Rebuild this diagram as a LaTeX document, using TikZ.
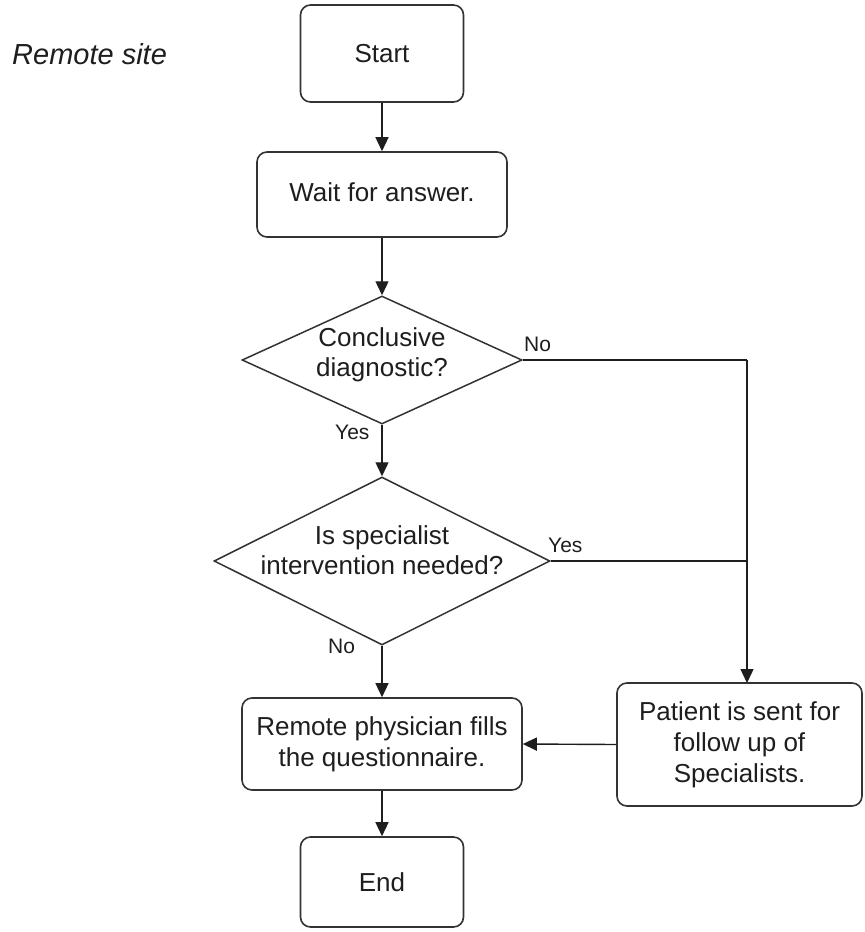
\documentclass[tikz,border=0pt]{standalone}
\usepackage{fontspec}
\setmainfont{Liberation Sans}
\usetikzlibrary{shapes.geometric,arrows.meta}
\definecolor{ink}{HTML}{1E1E1E}
\definecolor{edge}{HTML}{333333}
\begin{document}
\begin{tikzpicture}[x=1pt,y=-1pt,
  box/.style={draw=edge,line width=1.6pt,rounded corners=10pt,inner sep=0pt,align=center,
    text=ink,font={\fontsize{26}{31}\selectfont}},
  decision/.style={draw=edge,line width=1.5pt,diamond,inner sep=0pt},
  dtext/.style={text=ink,align=center,font={\fontsize{26}{30}\selectfont},inner sep=0pt},
  lbl/.style={text=ink,font={\fontsize{21}{24}\selectfont},inner sep=0pt,anchor=base west},
  conn/.style={draw=ink,line width=1.4pt},
  arr/.style={conn,-{Triangle[length=14pt,width=13pt]}}]
\useasboundingbox[fill=white] (0,0) rectangle (865,932);

\node[text=ink,font={\fontsize{29}{33}\selectfont\itshape},inner sep=0pt,anchor=base west] (site) at (12,64) {Remote site};

\node[box,minimum width=163pt,minimum height=97pt] (start) at (382,53.5) {Start};
\node[box,minimum width=250pt,minimum height=85pt] (wait) at (382,194.5) {\raisebox{4pt}{Wait for answer.}};
\node[decision,minimum width=280pt,minimum height=128pt] (d1) at (382,360) {};
\node[dtext] (d1t) at (382,355) {Conclusive\\diagnostic?};
\node[decision,minimum width=336pt,minimum height=168pt] (d2) at (382,561) {};
\node[dtext] (d2t) at (382,550) {Is specialist\\intervention needed?};
\node[box,minimum width=280pt,minimum height=92pt] (remote) at (382,744) {Remote physician fills\\the questionnaire.};
\node[box,minimum width=245pt,minimum height=123pt] (patient) at (739.5,744.5) {Patient is sent for\\follow up of\\Specialists.};
\node[box,minimum width=163pt,minimum height=90pt] (end) at (382,882) {End};

\coordinate (j1) at (747,360);
\coordinate (j2) at (747,561);
\coordinate (pt) at (747,683);

\draw[arr] (start.south) -- (wait.north);
\draw[arr] (wait.south) -- (d1.north);
\draw[arr] (d1.south) -- (d2.north);
\draw[arr] (d2.south) -- (remote.north);
\draw[arr] (remote.south) -- (end.north);
\draw[arr] (patient.west) -- (remote.east);
\draw[conn] (d1.east) -- (j1);
\draw[arr] (j1) -- (pt);
\draw[conn] (d2.east) -- (j2);

\node[lbl] (no1) at (524,351) {No};
\node[lbl] (yes1) at (335,439) {Yes};
\node[lbl] (yes2) at (548,552) {Yes};
\node[lbl] (no2) at (328,653) {No};
\end{tikzpicture}
\end{document}
